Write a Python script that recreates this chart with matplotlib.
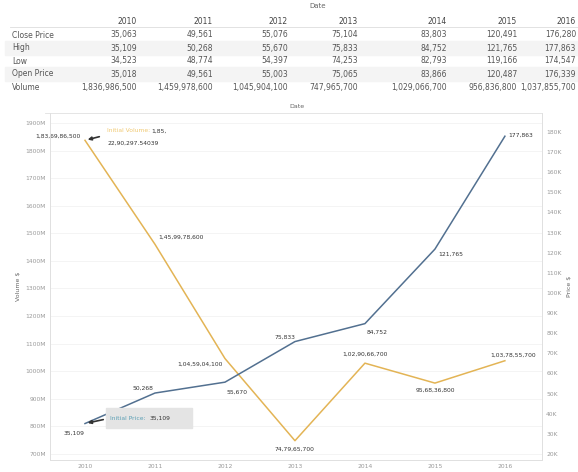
import matplotlib
matplotlib.use("Agg")
import matplotlib.pyplot as plt
from matplotlib.patches import Rectangle

# yearly summary of the stock
years = [2010, 2011, 2012, 2013, 2014, 2015, 2016]
close_price = [35063, 49561, 55076, 75104, 83803, 120491, 176280]
high = [35109, 50268, 55670, 75833, 84752, 121765, 177863]
low = [34523, 48774, 54397, 74253, 82793, 119166, 174547]
open_price = [35018, 49561, 55003, 75065, 83866, 120487, 176339]
volume = [1836986500, 1459978600, 1045904100, 747965700, 1029066700, 956836800, 1037855700]

row_names = ["Close Price", "High", "Low", "Open Price", "Volume"]
left_ticks = list(range(700, 2000, 100))      # millions
right_ticks = list(range(20, 190, 10))        # thousands

W, H = 578, 472
ORANGE = "#e3b455"
BLUE = "#527090"
GREY = "#666666"


def px(x, y):
    # pixel position (from top-left) -> figure fraction
    return x / W, 1 - y / H


def indian(n):
    s = str(int(n))
    if len(s) <= 3:
        return s
    head, tail = s[:-3], s[-3:]
    parts = []
    while len(head) > 2:
        parts.insert(0, head[-2:])
        head = head[:-2]
    if head:
        parts.insert(0, head)
    return ",".join(parts) + "," + tail


fig = plt.figure(figsize=(W / 100, H / 100), dpi=100)

# ---- table on top ----
col_right = [137, 213, 288, 358, 447, 517, 576]
row_y = [35, 48, 61, 74, 87]
fig.text(*px(318, 6), "Date", fontsize=5, color=GREY, ha="center", va="center")
for i, yr in enumerate(years):
    fig.text(*px(col_right[i], 21), str(yr), fontsize=5.5, color="#444444", ha="right", va="center")
fig.add_artist(plt.Line2D([10 / W, 1], [1 - 27 / H] * 2, color="#dddddd", lw=0.6))
for r in (1, 3):
    fig.add_artist(Rectangle(px(5, row_y[r] + 6.5), (W - 5) / W, 13 / H,
                             color="#f4f4f4", zorder=0))
rows = [close_price, high, low, open_price, volume]
for r, (name, vals) in enumerate(zip(row_names, rows)):
    fig.text(*px(12, row_y[r]), name, fontsize=5.5, color="#555555", ha="left", va="center")
    for i, v in enumerate(vals):
        fig.text(*px(col_right[i], row_y[r]), f"{v:,}", fontsize=5.5, color="#555555",
                 ha="right", va="center")

# ---- chart ----
ax = fig.add_axes([50 / W, 1 - 460 / H, (542 - 50) / W, (460 - 113) / H])
ax2 = ax.twinx()

vol_m = [v / 1e6 for v in volume]
high_k = [v / 1e3 for v in high]

ax.plot(years, vol_m, color=ORANGE, lw=1.1, zorder=3)
ax2.plot(years, high_k, color=BLUE, lw=1.1, zorder=3)

ax.set_xlim(2009.5, 2016.53)
ax.set_ylim(678, 1936)
ax2.set_ylim(17, 189.4)

ax.set_xticks(years)
ax.set_xticklabels([str(y) for y in years])
ax.set_yticks(left_ticks)
ax.set_yticklabels([f"{t}M" for t in left_ticks])
ax2.set_yticks(right_ticks)
ax2.set_yticklabels([f"{t}K" for t in right_ticks])
for a in (ax, ax2):
    a.tick_params(length=0, labelsize=4.3, labelcolor="#999999", pad=3)
    for s in a.spines.values():
        s.set_color("#e0e0e0")
        s.set_linewidth(0.6)
    a.spines["top"].set_visible(False)
ax.yaxis.grid(True, color="#f3f3f3", lw=0.6)
ax.set_axisbelow(True)
ax.set_ylabel("Volume $", fontsize=4.5, color=GREY, labelpad=3)
ax2.set_ylabel("Price $", fontsize=4.5, color=GREY, labelpad=4)

fig.text(*px(297, 107), "Date", fontsize=4.5, color=GREY, ha="center", va="center")
fig.add_artist(plt.Line2D([45 / W, 542 / W], [1 - 113 / H] * 2, color="#e0e0e0", lw=0.6))

# value labels, offsets in pixels
vol_offsets = [(-4, 4, "right"), (3, 7, "left"), (-2, -6, "right"), (0, -9, "center"),
               (0, 9, "center"), (0, -7, "center"), (8, 5, "center")]
for x, v, vm, (dx, dy, ha) in zip(years, volume, vol_m, vol_offsets):
    ax.annotate(indian(v), (x, vm), xytext=(dx, dy), textcoords="offset pixels",
                fontsize=4.3, color="#333333", ha=ha, va="center", zorder=5)

high_offsets = [(-11, -10, "center"), (-12, 5, "center"), (12, -10, "center"),
                (-10, 4, "center"), (12, -9, "center"), (3, -5, "left"), (3, 1, "left")]
for x, v, hk, (dx, dy, ha) in zip(years, high, high_k, high_offsets):
    ax2.annotate(f"{v:,}", (x, hk), xytext=(dx, dy), textcoords="offset pixels",
                 fontsize=4.3, color="#333333", ha=ha, va="center", zorder=5)

# callout for the first volume point
ax.annotate("", xy=(years[0], vol_m[0]), xytext=px(102, 136), textcoords="figure fraction",
            arrowprops=dict(arrowstyle="-|>", color="#333333", lw=1.2, mutation_scale=5))
fig.text(*px(107, 131), "Initial Volume:", fontsize=4.3, color="#f0c870", ha="left", va="center")
fig.text(*px(151, 131), "1,85,", fontsize=4.3, color="#333333", ha="left", va="center")
fig.text(*px(107, 143), "22,90,297.54039", fontsize=4.3, color="#333333", ha="left", va="center")

# callout for the first price point
fig.add_artist(Rectangle(px(106, 428), 86 / W, 20 / H, color="#e4e4e4", zorder=4))
ax2.annotate("", xy=(years[0], high_k[0]), xytext=px(106, 419), textcoords="figure fraction",
             arrowprops=dict(arrowstyle="-|>", color="#333333", lw=1.2, mutation_scale=5))
fig.text(*px(110, 418), "Initial Price:", fontsize=4.3, color="#5b9fb5", ha="left", va="center", zorder=5)
fig.text(*px(150, 418), f"{high[0]:,}", fontsize=4.3, color="#333333", ha="left", va="center", zorder=5)

fig.savefig("out.png", dpi=100)
